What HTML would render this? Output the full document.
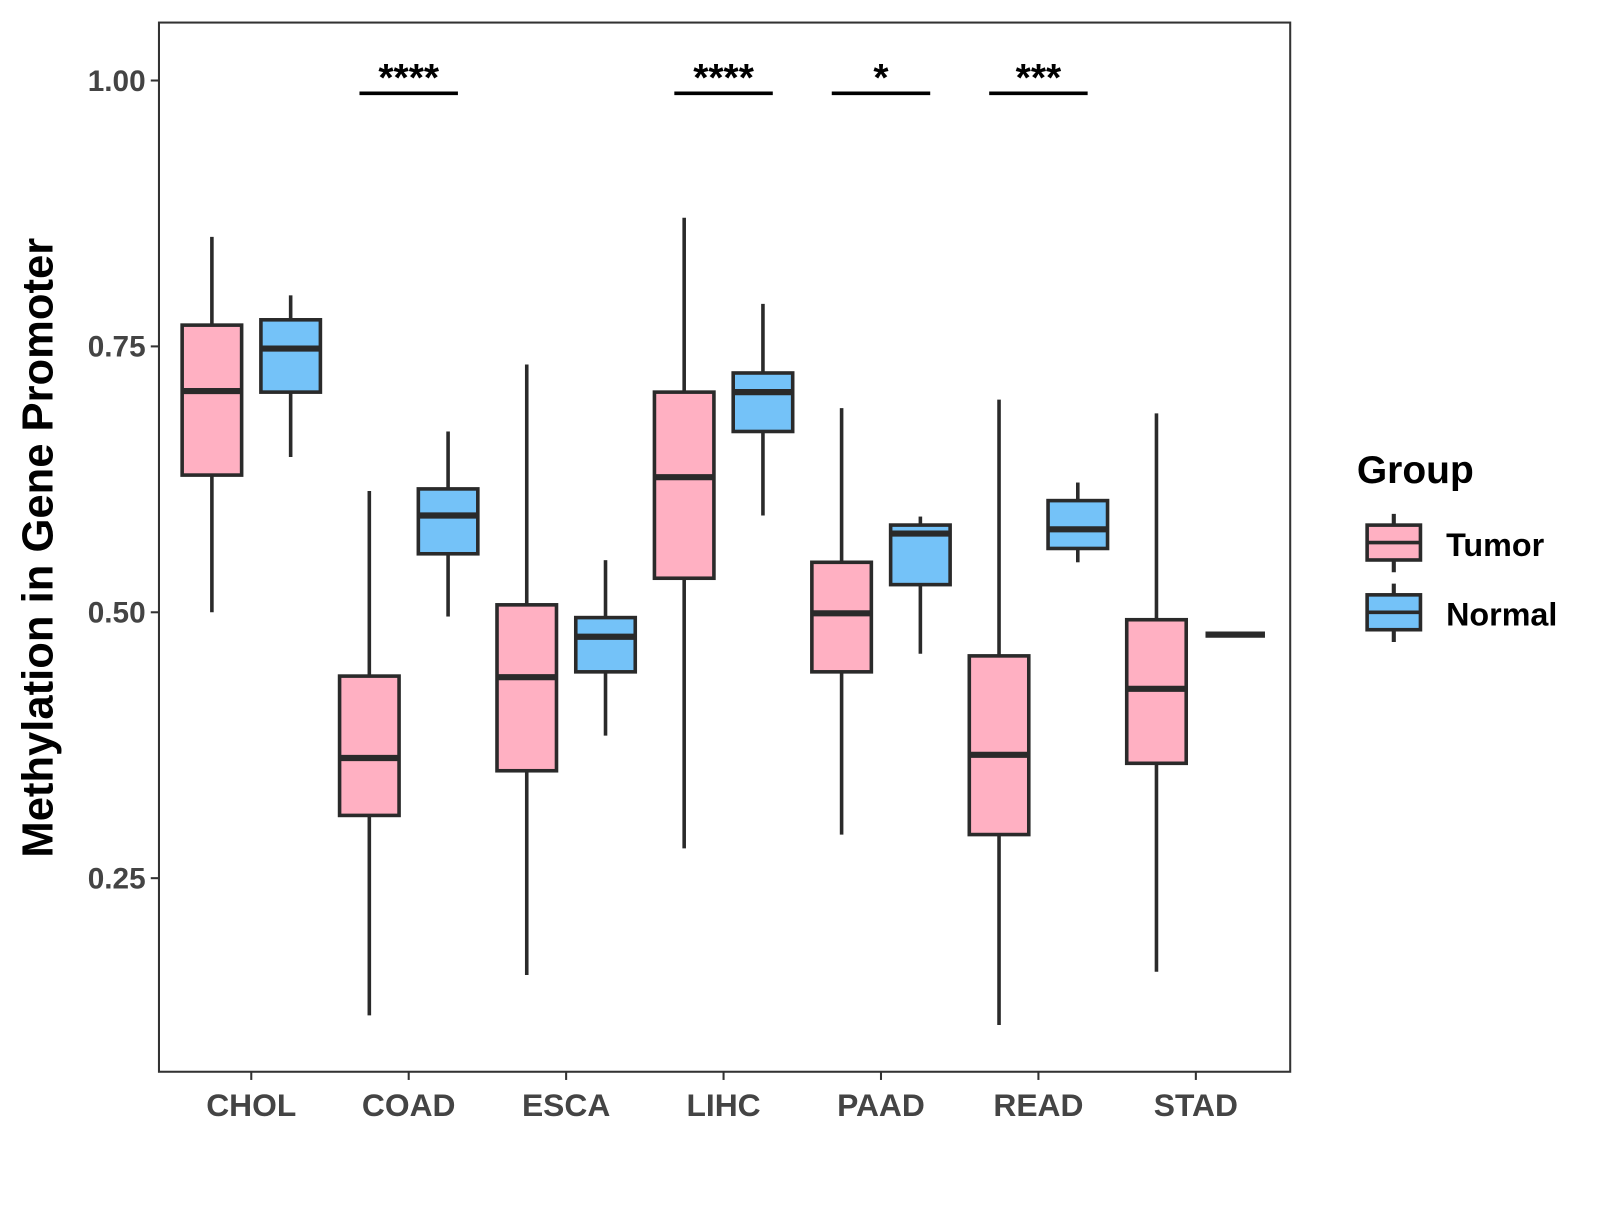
<!DOCTYPE html>
<html><head><meta charset="utf-8"><style>
body{margin:0;background:#fff;}
svg text{font-family:"Liberation Sans",Arial,sans-serif;font-weight:bold;}
</style></head><body>
<svg id="chart" width="1600" height="1200" viewBox="0 0 1600 1200" xmlns="http://www.w3.org/2000/svg">
<g transform="scale(1.0256)">
<rect x="155" y="22" width="1103" height="1023" fill="#fff" stroke="#333" stroke-width="2"/>
<g id="marks"></g>
<text transform="translate(51,534) rotate(-90)" text-anchor="middle" font-size="42.5" fill="#000">Methylation in Gene Promoter</text>
<g>
<text x="1323" y="471" font-size="38" fill="#000">Group</text>
<g>
<line x1="1359" y1="501" x2="1359" y2="558" stroke="#2a2a2a" stroke-width="4"/>
<rect x="1333" y="512" width="52" height="34" fill="#FFB0C2" stroke="#2a2a2a" stroke-width="3.5"/>
<line x1="1333" y1="529" x2="1385" y2="529" stroke="#2a2a2a" stroke-width="3.5"/>
<text x="1410" y="542" font-size="31.5" fill="#000">Tumor</text></g>
<g>
<line x1="1359" y1="569" x2="1359" y2="626" stroke="#2a2a2a" stroke-width="4"/>
<rect x="1333" y="580" width="52" height="34" fill="#74C2F8" stroke="#2a2a2a" stroke-width="3.5"/>
<line x1="1333" y1="597" x2="1385" y2="597" stroke="#2a2a2a" stroke-width="3.5"/>
<text x="1410" y="610" font-size="31.5" fill="#000">Normal</text></g>
</g>
</g>
</svg>
<script>
const categories=["CHOL","COAD","ESCA","LIHC","PAAD","READ","STAD"];
// [low, q1, median, q3, high]
const tumor=[[0.500,0.629,0.708,0.770,0.853],[0.121,0.309,0.363,0.440,0.614],[0.159,0.351,0.439,0.507,0.733],[0.278,0.532,0.627,0.707,0.871],[0.291,0.444,0.499,0.547,0.692],[0.112,0.291,0.366,0.459,0.700],[0.162,0.358,0.428,0.493,0.687]];
const normal=[[0.646,0.707,0.748,0.775,0.798],[0.496,0.555,0.591,0.616,0.670],[0.384,0.444,0.477,0.495,0.549],[0.591,0.670,0.707,0.725,0.790],[0.461,0.526,0.574,0.582,0.590],[0.547,0.560,0.578,0.605,0.622],[0.479,0.479,0.479,0.479,0.479]];
const yTicks=[0.25,0.50,0.75,1.00];
const yTickLabels=["0.25","0.50","0.75","1.00"];
const sigLabels=["","****","","****","*","***",""];
const sigLevel=0.988;
const NS="http://www.w3.org/2000/svg";
const yS=v=>78.5+(1-v)*1037;
const xS=i=>245+i*153.5;
const g=document.getElementById('marks');
function mk(t,a,p){const e=document.createElementNS(NS,t);for(const k in a)e.setAttribute(k,a[k]);(p||g).appendChild(e);return e;}
yTicks.forEach((v,i)=>{
 const t=mk('line',{x1:147,x2:155,y1:yS(v),y2:yS(v),stroke:'#333','stroke-width':2});
 
 
 const l=mk('text',{x:142,y:yS(v)+10,'text-anchor':'end','font-size':29,fill:'#444'});
 l.textContent=yTickLabels[i];
 
 
});
categories.forEach((c,i)=>{
 const x=xS(i);
 const t=mk('line',{x1:x,x2:x,y1:1045,y2:1053,stroke:'#333','stroke-width':2});
 
 
 const l=mk('text',{x:x,y:1088,'text-anchor':'middle','font-size':31,fill:'#444'});
 l.textContent=c;
 
 
 [[tumor[i],-38.4,'#FFB0C2','tumor'],[normal[i],38.4,'#74C2F8','normal']].forEach(([d,off,col,nm])=>{
  const cx=x+off,w=58;
  const bg=mk('g',{});
  
  
  mk('line',{x1:cx,x2:cx,y1:yS(d[4]),y2:yS(d[3]),stroke:'#2a2a2a','stroke-width':3.5},bg);
  mk('line',{x1:cx,x2:cx,y1:yS(d[1]),y2:yS(d[0]),stroke:'#2a2a2a','stroke-width':3.5},bg);
  mk('rect',{x:cx-w/2,y:yS(d[3]),width:w,height:Math.max(0,yS(d[1])-yS(d[3])),fill:col,stroke:'#2a2a2a','stroke-width':3.5},bg);
  mk('line',{x1:cx-w/2,x2:cx+w/2,y1:yS(d[2]),y2:yS(d[2]),stroke:'#2a2a2a','stroke-width':6},bg);
 });
 if(sigLabels[i]){
  const sg=mk('g',{});
  
  
  mk('line',{x1:x-48,x2:x+48,y1:yS(sigLevel),y2:yS(sigLevel),stroke:'#000','stroke-width':3.5},sg);
  const s=mk('text',{x:x,y:yS(sigLevel)-2,'text-anchor':'middle','font-size':38,fill:'#000'},sg);
  s.textContent=sigLabels[i];
 }
});
</script>
</body></html>
